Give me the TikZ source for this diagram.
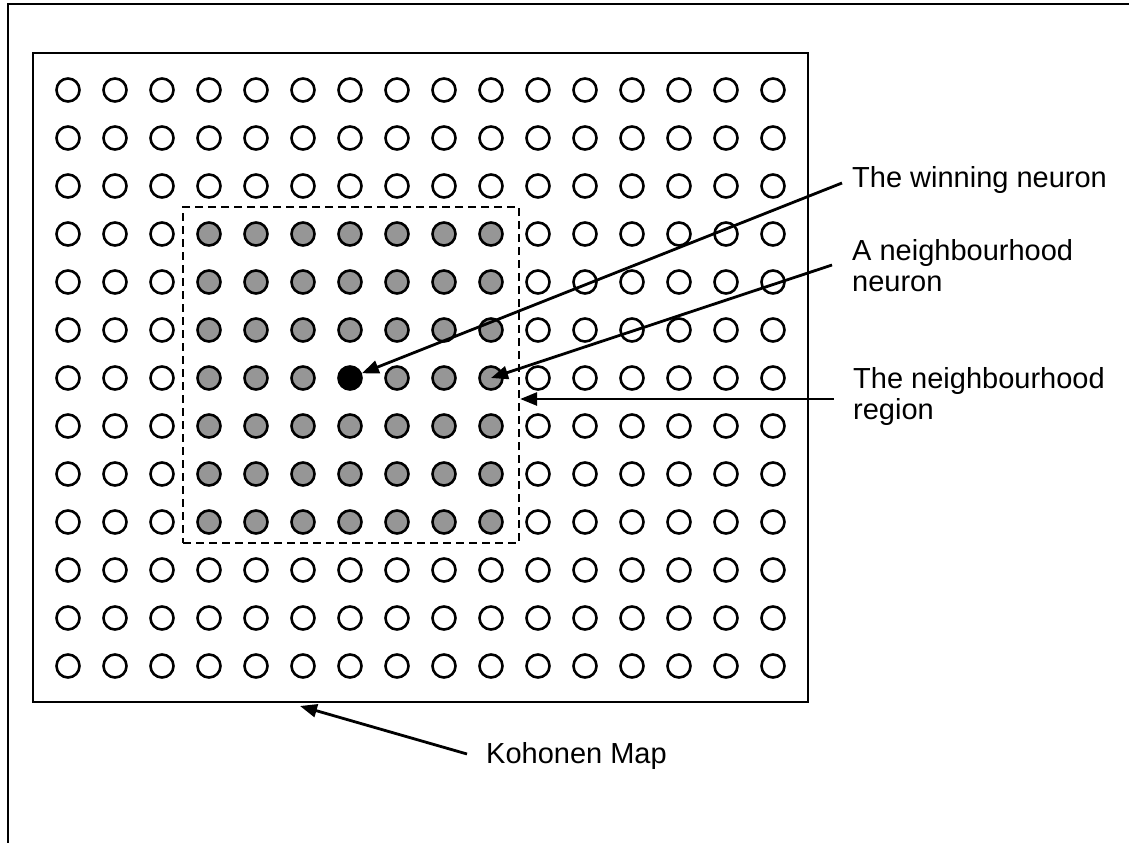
\documentclass[tikz,border=0pt]{standalone}
\usepackage{fontspec}
\setmainfont{Liberation Sans}
\usetikzlibrary{arrows.meta}
\definecolor{nbrgray}{RGB}{150,150,150}
\begin{document}
\begin{tikzpicture}[x=1pt,y=-1pt,
  neuron/.style={circle,draw,line width=2.6pt,minimum size=23pt,inner sep=0pt,fill=white},
  nbr/.style={neuron,fill=nbrgray},
  winner/.style={neuron,fill=black},
  arr/.style={line width=2.8pt,-{Triangle[length=17pt,width=13pt]}},
  lbl/.style={font=\fontsize{29}{31}\selectfont,inner sep=0pt,align=left},
]
\useasboundingbox (0,0) rectangle (1129,843);

% outer frame (top and left edges)
\draw[line width=2.8pt] (1129,4) -- (8,4) -- (8,843);

% the Kohonen map
\node[draw,line width=2.6pt,minimum width=775pt,minimum height=649pt,inner sep=0pt] (map) at (420.5,377.5) {};

% grid of neurons: 13 rows x 16 columns
\foreach \r in {0,...,12}{
  \foreach \c in {0,...,15}{
    \def\sty{neuron}
    \ifnum\r>2 \ifnum\r<10 \ifnum\c>2 \ifnum\c<10 \def\sty{nbr}\fi\fi\fi\fi
    \ifnum\r=6 \ifnum\c=6 \def\sty{winner}\fi\fi
    \node[\sty] (c-\r-\c) at ({68+47*\c},{90+48*\r}) {};
  }
}

% neighbourhood region
\node[draw,dash pattern=on 8pt off 5pt,line width=2.3pt,minimum width=336pt,minimum height=336pt,inner sep=0pt] (region) at (351,375) {};

% labels
\node[lbl,anchor=base west] (tw) at (852,187) {The winning neuron};
\node[lbl,anchor=north west] (tn) at (852,239.2) {A neighbourhood\\neuron};
\node[lbl,anchor=north west] (tr) at (853,367.2) {The neighbourhood\\region};
\node[lbl,anchor=base west] (tk) at (486,763) {Kohonen Map};

% pointers
\coordinate (w0) at (842,183);
\draw[arr] (w0) -- (c-6-6);
\coordinate (n0) at (832,265);
\draw[arr] (n0) -- (c-6-9.center);
\coordinate (r0) at (834,399);
\draw[arr] (r0) -- (r0 -| region.east);
\coordinate (k0) at (467,754);
\coordinate (k1) at (300,706);
\draw[arr] (k0) -- (k1);
\end{tikzpicture}
\end{document}
